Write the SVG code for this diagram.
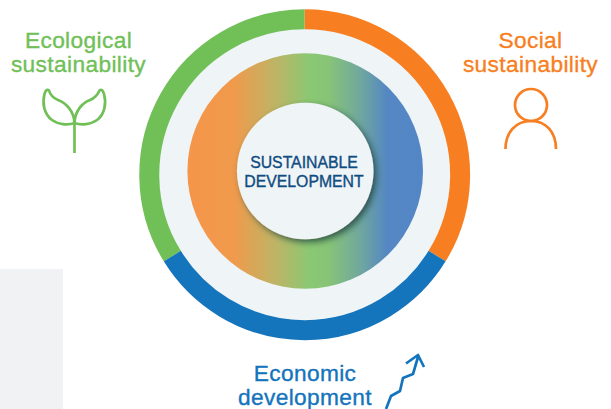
<svg xmlns="http://www.w3.org/2000/svg" width="611" height="409" viewBox="0 0 611 409">
<style>
.lbl{font-family:"Liberation Sans",Arial,sans-serif;font-size:22.7px;text-anchor:middle;letter-spacing:.38px;stroke-width:.35}
.ring{fill:none;stroke-width:20}
.ico{fill:none;stroke-width:2.7;stroke-linecap:butt;stroke-linejoin:round}
.ctr{font-family:"Liberation Sans",Arial,sans-serif;font-size:15.8px;text-anchor:middle;fill:#0f4c81;stroke:#0f4c81;stroke-width:.35}
</style>
<defs>
<linearGradient id="g" gradientUnits="userSpaceOnUse" x1="187" y1="0" x2="423" y2="0">
<stop offset="0" stop-color="#f5954a"/>
<stop offset=".2" stop-color="#f09a4c"/>
<stop offset=".38" stop-color="#bcb566"/>
<stop offset=".52" stop-color="#8ac873"/>
<stop offset=".6" stop-color="#87c476"/>
<stop offset=".74" stop-color="#6fa6a0"/>
<stop offset=".85" stop-color="#5487c3"/>
<stop offset="1" stop-color="#5486c6"/>
</linearGradient>
<filter id="s" x="-30%" y="-30%" width="170%" height="170%">
<feDropShadow dx="3" dy="3" stdDeviation="3" flood-color="#1c3a3a" flood-opacity=".75"/>
</filter>
</defs>
<rect id="panel" x="0" y="269" width="63" height="140" fill="#f1f2f4"/>
<g id="rings">
<circle cx="304.7" cy="174" r="146" fill="#eff4f7"/>
<path class="ring" stroke="#70c057" d="M172.3 256.1A155.4 155.4 0 0 1 304.7 19.3"/>
<path class="ring" stroke="#f77f22" d="M304.7 19.3A155.4 155.4 0 0 1 437.1 256.1"/>
<path class="ring" stroke="#1474bc" d="M437.1 256.1A155.4 155.4 0 0 1 172.3 256.1"/>
</g>
<g id="core">
<circle cx="305.2" cy="171" r="117.8" fill="url(#g)"/>
<circle cx="305.2" cy="171" r="68.3" fill="#eff4f7" filter="url(#s)"/>
<text class="ctr" x="304" y="168">SUSTAINABLE</text>
<text class="ctr" x="304" y="187">DEVELOPMENT</text>
</g>
<g id="ecological">
<text class="lbl" fill="#70c057" stroke="#70c057" x="78.500" y="48">Ecological</text>
<text class="lbl" fill="#70c057" stroke="#70c057" x="78.500" y="72">sustainability</text>
<path class="ico" stroke="#70c057" d="M74.500 123V153M74.500 123C74 111 66 103 58 100C53 98 50 94 49 90.500C46.500 89 45.500 91 44.500 94C42 103 44 114 52 120C58 124.500 68 125.500 74.500 123C81 125.500 91 124.500 97 120C105 114 106.500 103 104 94C103 91 102 89 99.500 90.500C98 94 95 98 90 100C82 103 75 111 74.500 123Z"/>
</g>
<g id="social">
<text class="lbl" fill="#f77f22" stroke="#f77f22" x="530.500" y="48">Social</text>
<text class="lbl" fill="#f77f22" stroke="#f77f22" x="530.500" y="72">sustainability</text>
<circle class="ico" stroke="#f77f22" cx="531" cy="105" r="16"/>
<path class="ico" stroke="#f77f22" d="M505.500 149C505.500 132 516 121 531 121C546 121 556 132 556 149"/>
</g>
<g id="economic">
<text class="lbl" fill="#1474bc" stroke="#1474bc" x="305" y="381">Economic</text>
<text class="lbl" fill="#1474bc" stroke="#1474bc" x="305" y="405">development</text>
<path class="ico" stroke="#1474bc" d="M386 409L391 396L400 391L403 378L413 374L418 357M406 363.500L418 355L424 367"/>
</g>
</svg>
